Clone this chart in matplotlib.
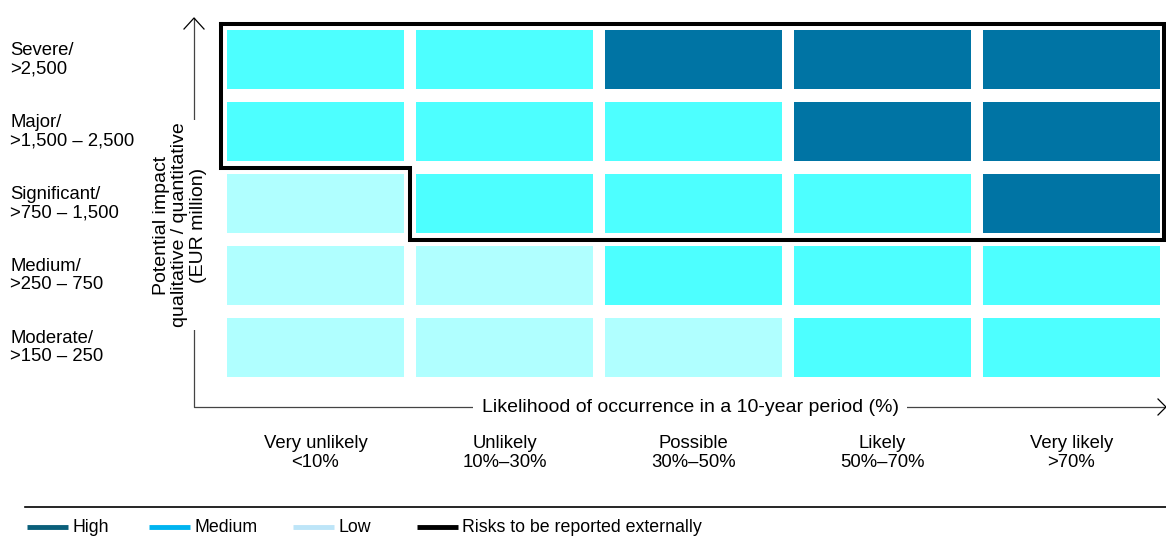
import matplotlib
matplotlib.use("Agg")
import matplotlib.pyplot as plt
from matplotlib.patches import Rectangle

plt.rcParams['font.family'] = ['Liberation Sans', 'DejaVu Sans']

# data
impact_labels = ['Severe/\n>2,500', 'Major/\n>1,500 \u2013 2,500', 'Significant/\n>750 \u2013 1,500',
                 'Medium/\n>250 \u2013 750', 'Moderate/\n>150 \u2013 250']
likelihood_labels = ['Very unlikely\n<10%', 'Unlikely\n10%\u201330%', 'Possible\n30%\u201350%',
                     'Likely\n50%\u201370%', 'Very likely\n>70%']
# risk level per cell, rows top (severe) to bottom (moderate)
risk_level = [
    ['M', 'M', 'H', 'H', 'H'],
    ['M', 'M', 'M', 'H', 'H'],
    ['L', 'M', 'M', 'M', 'H'],
    ['L', 'L', 'M', 'M', 'M'],
    ['L', 'L', 'L', 'M', 'M'],
]
# first column (index) from which risks of a row are reported externally, 5 = none
reported_from = [0, 0, 1, 5, 5]

cell_colors = {'H': '#0074a4', 'M': '#4dffff', 'L': '#b0ffff'}
legend_items = ['High', 'Medium', 'Low', 'Risks to be reported externally']
legend_colors = ['#0a5f7a', '#00b4f0', '#bde5f8', '#000000']

# layout (pixels)
x0, y0 = 227, 30
dx, dy = 189, 72
cw, ch = 177, 59
fs = 13.3

fig = plt.figure(figsize=(11.66, 5.36), dpi=100)
ax = fig.add_axes([0, 0, 1, 1])
ax.set_xlim(0, 1166)
ax.set_ylim(536, 0)
ax.axis('off')

# cells
for r, row in enumerate(risk_level):
    for c, lvl in enumerate(row):
        ax.add_patch(Rectangle((x0 + c * dx, y0 + r * dy), cw, ch,
                               facecolor=cell_colors[lvl], edgecolor='none'))

# outline of externally reported risks
gx = (dx - cw) / 2
gy = (dy - ch) / 2
right = 1164
pts = []
rep_rows = [r for r, f in enumerate(reported_from) if f < 5]
for r in rep_rows:
    xl = x0 + reported_from[r] * dx - gx
    pts.append((xl, y0 + r * dy - gy))
    pts.append((xl, y0 + (r + 1) * dy - gy))
last = rep_rows[-1]
pts.append((right, y0 + (last + 1) * dy - gy))
pts.append((right, y0 - gy))
pts.append(pts[0])
ax.plot([p[0] for p in pts], [p[1] for p in pts], color='black', lw=2.9,
        solid_joinstyle='miter', zorder=5)

# axes arrows
ax_col = '#444444'
ax.plot([194, 194, 1164], [18, 407, 407], color=ax_col, lw=0.9, zorder=3)
ax.plot([184, 194, 204], [29, 18, 29], color='black', lw=0.9, zorder=3)
ax.plot([1158, 1166, 1158], [399, 407, 415], color='black', lw=0.9, zorder=3)

ax.text(180, 225, 'Potential impact\nqualitative / quantitative\n(EUR million)',
        rotation=90, ha='center', va='center', fontsize=14, linespacing=1.15,
        bbox=dict(facecolor='white', edgecolor='none', pad=2), zorder=4)
ax.text(690, 408, 'Likelihood of occurrence in a 10-year period (%)',
        ha='center', va='center', fontsize=14,
        bbox=dict(facecolor='white', edgecolor='none', pad=6), zorder=4)

# row labels
for r, lab in enumerate(impact_labels):
    ax.text(10, y0 + r * dy + ch / 2, lab, ha='left', va='center', fontsize=fs,
            linespacing=1.15)

# column labels
for c, lab in enumerate(likelihood_labels):
    ax.text(x0 + c * dx + cw / 2, 453, lab, ha='center', va='center', fontsize=fs,
            linespacing=1.22)

# separator and legend
ax.plot([25, 1166], [507, 507], color='black', lw=1.2)
leg_x = [27, 149, 293, 417]
for x, lab, col in zip(leg_x, legend_items, legend_colors):
    ax.plot([x, x + 41], [527, 527], color=col, lw=3.5, solid_capstyle='butt')
    ax.text(x + 45, 528, lab, ha='left', va='center', fontsize=12.8)

fig.savefig('out.png', dpi=100)
